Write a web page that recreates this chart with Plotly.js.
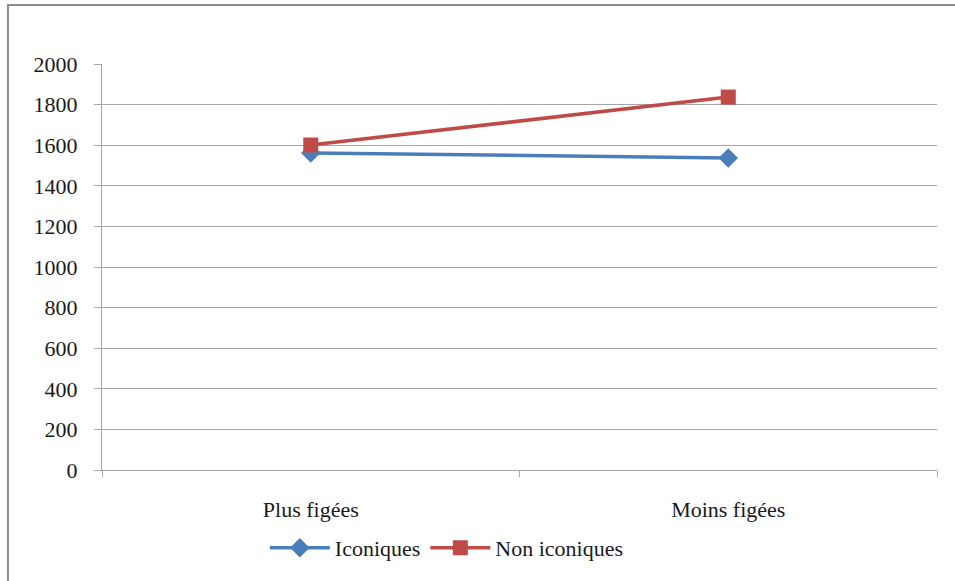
<!DOCTYPE html>
<html>
<head>
<meta charset="utf-8">
<script src="https://cdn.plot.ly/plotly-3.0.1.min.js"></script>
<style>
html,body{margin:0;padding:0;background:#fff;}
#chart{width:955px;height:581px;}
</style>
</head>
<body>
<div id="chart"></div>
<script>
const categories = ["Plus figées", "Moins figées"];
const iconiques = [1562, 1537];
const nonIconiques = [1601, 1837];
const seriesNames = ["Iconiques", "Non iconiques"];
const yTicks = [0, 200, 400, 600, 800, 1000, 1200, 1400, 1600, 1800, 2000];

function mkFont() { return {family: "Times New Roman", size: 22, color: "#1a1a1a"}; }
const gray = "#a6a6a6";

const traces = [
  {x: categories, y: iconiques, name: seriesNames[0], type: "scatter", mode: "lines+markers",
   line: {color: "#4A7EBB", width: 3.5}, marker: {symbol: "diamond", size: 15, color: "#4A7EBB"}},
  {x: categories, y: nonIconiques, name: seriesNames[1], type: "scatter", mode: "lines+markers",
   line: {color: "#BE4B48", width: 3.5}, marker: {symbol: "square", size: 15, color: "#BE4B48"}}
];

const layout = {
  width: 955, height: 581,
  margin: {l: 102, r: 18, t: 64, b: 111},
  paper_bgcolor: "#fff", plot_bgcolor: "#fff",
  font: mkFont(),
  showlegend: true,
  legend: {orientation: "h", x: 0.195, xanchor: "left", y: -0.192, yanchor: "middle",
           font: mkFont(), itemwidth: 60, tracegroupgap: 0},
  xaxis: {type: "category", range: [-0.5, 1.5], tickson: "boundaries", ticks: "outside", ticklen: 6,
          tickcolor: gray, showline: true, linecolor: gray, linewidth: 1, showgrid: false,
          ticklabelstandoff: 20, tickfont: mkFont(), fixedrange: true},
  yaxis: {range: [0, 2000], tickvals: yTicks, ticktext: yTicks.map(String), ticks: "outside", ticklen: 7,
          tickcolor: gray, showline: true, linecolor: gray, linewidth: 1, showgrid: true,
          gridcolor: gray, gridwidth: 1, zeroline: false, ticklabelstandoff: 12, tickfont: mkFont(), fixedrange: true},
  shapes: [{type: "rect", xref: "paper", yref: "paper", x0: -0.1126, x1: 1.2, y0: -0.4, y1: 1.1453,
            line: {color: "#8c8c8c", width: 2}, fillcolor: "rgba(0,0,0,0)", layer: "below"}]
};

Plotly.newPlot("chart", traces, layout, {displayModeBar: false, staticPlot: true});
</script>
</body>
</html>
